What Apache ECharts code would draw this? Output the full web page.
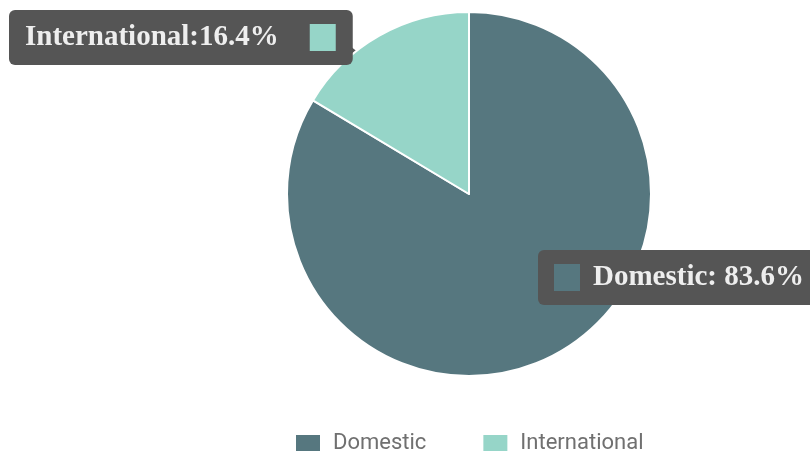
<!DOCTYPE html>
<html>
<head>
<meta charset="utf-8">
<script src="https://cdn.jsdelivr.net/npm/echarts@6/dist/echarts.min.js"></script>
<style>
  html, body { margin: 0; padding: 0; background: #fff; }
  #main { width: 810px; height: 453px; }
</style>
</head>
<body>
<div id="main"></div>
<script>
const categories = ['Domestic', 'International']
const shares = [83.6, 16.4]
const colors = ['#56777f', '#96d5c8']

// label box positions (top-left of the callout boxes)
const labelPos = [
  { x: 538, y: 250 },
  { x: 9, y: 10 }
]

const chart = echarts.init(document.getElementById('main'))

const option = {
  backgroundColor: '#fff',
  animation: false,
  color: colors,
  legend: {
    data: categories,
    top: 432,
    left: 294,
    padding: 0,
    icon: 'rect',
    itemWidth: 26,
    itemHeight: 18,
    itemGap: 55,
    textStyle: {
      fontFamily: 'Roboto',
      fontSize: 22,
      color: '#707070',
      padding: [0, 0, 0, 7]
    }
  },
  graphic: [
    // little pointer tips on the callouts
    { type: 'polygon', shape: { points: [[350, 46], [363, 56], [350, 61]] }, style: { fill: '#555' } },
    { type: 'polygon', shape: { points: [[540, 283], [528, 293], [540, 297]] }, style: { fill: '#555' } }
  ],
  series: [
    {
      type: 'pie',
      center: [469, 194],
      radius: 182,
      startAngle: 90,
      clockwise: true,
      itemStyle: {
        borderColor: '#fff',
        borderWidth: 2
      },
      labelLine: { show: false },
      label: {
        show: true,
        position: 'inside',
        overflow: 'none',
        backgroundColor: '#555',
        borderRadius: 6,
        padding: [13, 17, 13, 16],
        formatter: function (p) {
          if (p.dataIndex === 0) {
            return '{sqa|}{g2|}{t|' + p.name + ': ' + p.value + '%}'
          }
          return '{t|' + p.name + ':' + p.value + '%}{g1|}{sqb|}'
        },
        rich: {
          t: {
            fontFamily: 'Liberation Serif',
            fontWeight: 'bold',
            fontSize: 29,
            color: '#eeeeee',
            height: 29
          },
          g1: { width: 31 },
          g2: { width: 13 },
          sqa: {
            backgroundColor: colors[0],
            width: 26,
            height: 27
          },
          sqb: {
            backgroundColor: colors[1],
            width: 26,
            height: 27
          }
        }
      },
      labelLayout: function (params) {
        const pos = labelPos[params.dataIndex]
        return { x: pos.x, y: pos.y, align: 'left', verticalAlign: 'top' }
      },
      data: categories.map((name, i) => ({ name: name, value: shares[i] }))
    }
  ]
}

chart.setOption(option)
</script>
</body>
</html>
